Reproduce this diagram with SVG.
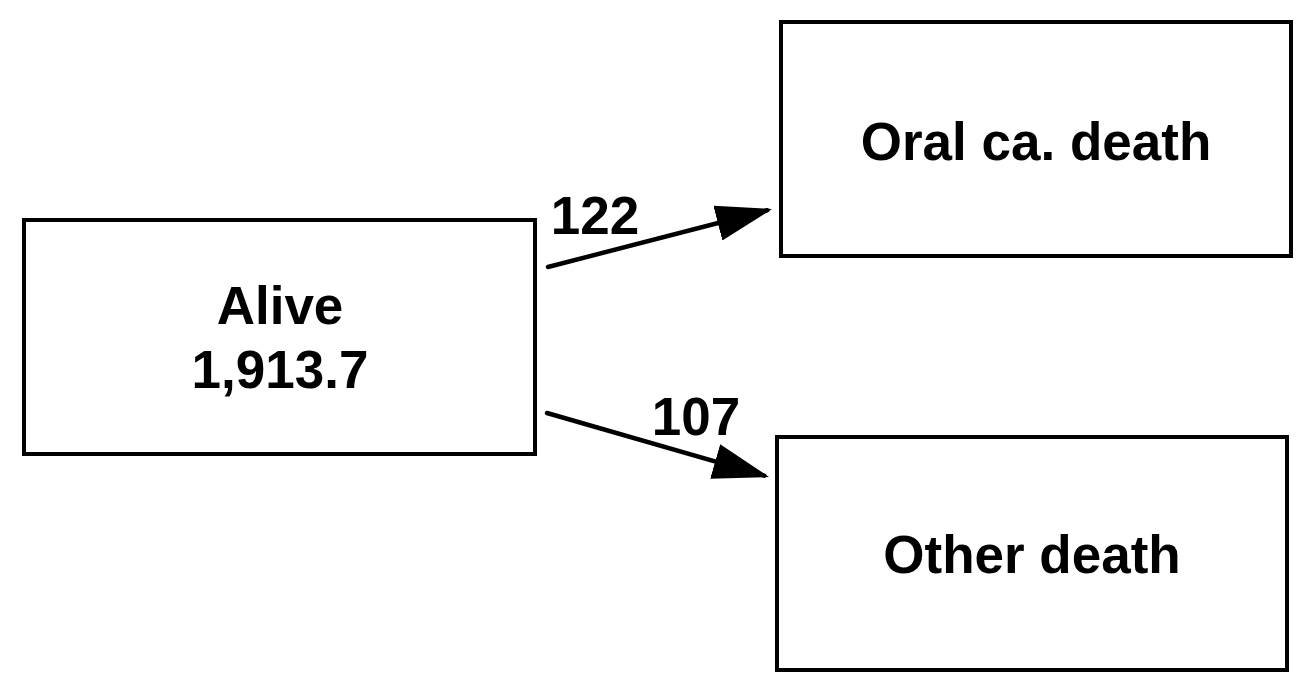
<svg xmlns="http://www.w3.org/2000/svg" width="1305" height="691" viewBox="0 0 1305 691">
<style>
.box{fill:#fff;stroke:#000;stroke-width:4}
.t{font-family:"Liberation Sans",Arial,sans-serif;font-weight:bold;font-size:53px;fill:#000;text-anchor:middle}
.c{stroke:#000;stroke-width:4.5;fill:none;stroke-linecap:round}
</style>
<defs>
<marker id="ah" markerUnits="userSpaceOnUse" viewBox="0 0 56 36" markerWidth="56" markerHeight="36" refX="51" refY="18" orient="auto">
<path d="M0,0 L56,18 L0,36 Z" fill="#000"/>
</marker>
</defs>
<rect width="1305" height="691" fill="#fff"/>
<g id="alive">
<rect class="box" x="24" y="220" width="511" height="234"/>
<text class="t" x="280" y="324">Alive</text>
<text class="t" x="280" y="388">1,913.7</text>
</g>
<g id="oral">
<rect class="box" x="781" y="22" width="510" height="234"/>
<text class="t" x="1036" y="160">Oral ca. death</text>
</g>
<g id="other">
<rect class="box" x="777" y="437" width="510" height="233"/>
<text class="t" x="1032" y="573">Other death</text>
</g>
<g id="connectors">
<line class="c" x1="548" y1="267" x2="767.2" y2="210.3" marker-end="url(#ah)"/>
<line class="c" x1="547" y1="413" x2="764.2" y2="475.6" marker-end="url(#ah)"/>
<text class="t" x="595" y="234">122</text>
<text class="t" x="696" y="435">107</text>
</g>
</svg>
